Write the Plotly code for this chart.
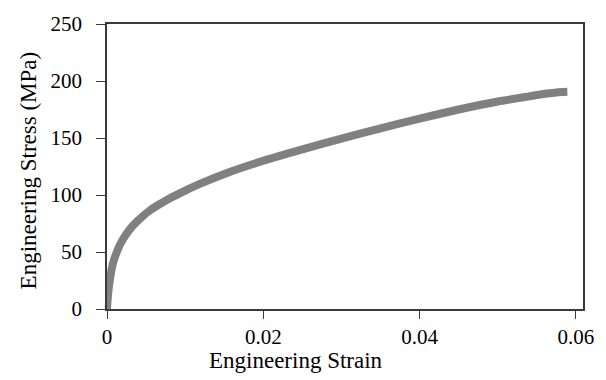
import plotly.graph_objects as go

strain = [0, 0.0001, 0.0002, 0.0004, 0.0006, 0.0008, 0.0012, 0.0017, 0.0025, 0.0033,
          0.0045, 0.0055, 0.0065, 0.0076, 0.0093, 0.0118, 0.0156, 0.020, 0.025, 0.030,
          0.035, 0.040, 0.045, 0.050, 0.054, 0.0563, 0.0575, 0.0589]
stress = [0, 10, 17, 27, 35, 41, 49, 57, 66, 73,
          81, 86.5, 91, 95.5, 101.5, 109.5, 120, 130, 140, 149.5,
          158.5, 167, 175, 182, 186.5, 189, 190, 190.5]

x_ticks = [0, 0.02, 0.04, 0.06]
x_tick_labels = ["0", "0.02", "0.04", "0.06"]
y_ticks = [0, 50, 100, 150, 200, 250]
y_tick_labels = ["0", "50", "100", "150", "200", "250"]

FONT = "Liberation Serif"
AXIS_COLOR = "#3a3a3a"

W, H = 606, 380
L, R, T, B = 107, 20, 16, 71
PW, PH = W - L - R, H - T - B

fig = go.Figure()
fig.add_trace(go.Scatter(
    x=strain, y=stress, mode="lines",
    line=dict(color="#808080", width=8, shape="spline", smoothing=0.6),
    showlegend=False,
))

fig.update_layout(
    width=W, height=H,
    margin=dict(l=L, r=R, t=T, b=B),
    paper_bgcolor="white", plot_bgcolor="white",
    font=dict(family=FONT, size=21, color="black"),
    xaxis=dict(
        range=[0, 0.0609], tickvals=x_ticks, ticktext=x_tick_labels,
        showgrid=False, zeroline=False,
        showline=True, linecolor=AXIS_COLOR, linewidth=1.5, mirror=True,
        ticks="outside", ticklen=8, tickwidth=1.2, tickcolor=AXIS_COLOR,
        tickfont=dict(family=FONT, size=21, color="black"),
        ticklabelstandoff=0,
    ),
    yaxis=dict(
        range=[0, 250], tickvals=y_ticks, ticktext=y_tick_labels,
        showgrid=False, zeroline=False,
        showline=True, linecolor=AXIS_COLOR, linewidth=1.5, mirror=True,
        ticks="outside", ticklen=9, tickwidth=1.2, tickcolor=AXIS_COLOR,
        tickfont=dict(family=FONT, size=21, color="black"),
        ticklabelstandoff=10,
    ),
    annotations=[
        dict(text="Engineering Strain", x=(297 - L) / PW, y=(H - B - 362) / PH,
             xref="paper", yref="paper", xanchor="center", yanchor="middle",
             showarrow=False, font=dict(family=FONT, size=23, color="black")),
        dict(text="Engineering Stress (MPa)", x=(28 - L) / PW, y=(H - B - 166) / PH,
             xref="paper", yref="paper", xanchor="center", yanchor="middle",
             textangle=-90, showarrow=False,
             font=dict(family=FONT, size=23, color="black")),
    ],
)

fig.write_html("out.html", config={"displayModeBar": False},
               post_script="document.body.style.margin='0';")
